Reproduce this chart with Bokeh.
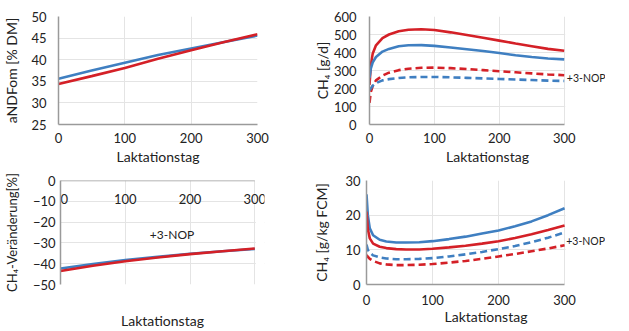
from bokeh.plotting import figure
from bokeh.layouts import column, row
from bokeh.models import Range1d, Label, BoxAnnotation, ColumnDataSource
from bokeh.core.properties import value
from bokeh.embed import file_html
from bokeh.resources import INLINE

# ---------------- data ----------------
x_ticks = [0, 100, 200, 300]

# Panel 1: aNDFom [% DM]
d1 = [0, 50, 100, 150, 200, 250, 300]
ndf_blue = [35.6, 37.5, 39.3, 41.1, 42.6, 44.1, 45.6]
ndf_red = [34.4, 36.2, 38.1, 40.2, 42.2, 44.1, 45.9]
y1_ticks = [25, 30, 35, 40, 45, 50]

# Panel 2: CH4 [g/d]
d2 = [0, 2, 5, 10, 20, 30, 45, 60, 80, 100, 125, 150, 175, 200, 225, 250, 275, 300]
gd_red = [220, 330, 395, 440, 480, 500, 518, 526, 529, 525, 512, 497, 482, 466, 450, 435, 420, 410]
gd_blue = [260, 310, 345, 375, 405, 420, 435, 440, 441, 437, 428, 418, 408, 397, 385, 375, 367, 362]
gd_red_nop = [120, 180, 215, 245, 272, 288, 302, 310, 315, 316, 313, 308, 302, 296, 290, 284, 278, 274]
gd_blue_nop = [190, 200, 215, 230, 245, 252, 258, 262, 264, 264, 262, 259, 256, 253, 250, 247, 244, 242]
y2_ticks = [0, 100, 200, 300, 400, 500, 600]

# Panel 3: CH4 change [%]
d3 = [0, 50, 100, 150, 200, 250, 300]
chg_blue = [-42.3, -40.2, -38.3, -36.7, -35.2, -34.0, -32.9]
chg_red = [-43.5, -41.0, -38.8, -37.0, -35.4, -34.0, -32.7]
y3_ticks = [0, -10, -20, -30, -40, -50]

# Panel 4: CH4 [g/kg FCM]
d4 = [0, 2, 5, 10, 20, 30, 45, 60, 80, 100, 125, 150, 175, 200, 225, 250, 275, 300]
fcm_blue = [26, 20, 16.2, 14.2, 12.9, 12.4, 12.1, 12.1, 12.2, 12.5, 13.1, 13.8, 14.7, 15.6, 16.8, 18.2, 20.0, 22.0]
fcm_red = [21, 16, 13.3, 11.8, 10.9, 10.5, 10.2, 10.1, 10.1, 10.3, 10.7, 11.2, 11.8, 12.5, 13.4, 14.5, 15.7, 17.0]
fcm_blue_nop = [11.5, 10, 9.2, 8.4, 7.8, 7.5, 7.3, 7.3, 7.4, 7.6, 8.1, 8.7, 9.4, 10.2, 11.1, 12.2, 13.5, 15.0]
fcm_red_nop = [8.5, 8, 7.4, 6.8, 6.1, 5.8, 5.6, 5.6, 5.7, 5.9, 6.3, 6.8, 7.4, 8.1, 8.8, 9.6, 10.4, 11.3]
y4_ticks = [0, 10, 20, 30]

# ---------------- style ----------------
FONT = "Lato"
TXT = "#222222"
AXC = "#9a9a9a"
GRID = "#e4e4e4"
RED = "#d42027"
BLUE = "#3f7fc1"
LW = 2.6
DASH = "7 4"


def style_axis(ax, label_size="14px"):
    ax.axis_line_color = AXC
    ax.axis_line_width = 1.5
    ax.major_tick_line_color = None
    ax.minor_tick_line_color = None
    ax.major_tick_out = 0
    ax.major_tick_in = 0
    ax.minor_tick_out = 0
    ax.minor_tick_in = 0
    ax.major_label_text_font = FONT
    ax.major_label_text_font_size = "13px"
    ax.major_label_text_color = TXT
    ax.axis_label_text_font = FONT
    ax.axis_label_text_font_size = label_size
    ax.axis_label_text_font_style = "normal"
    ax.axis_label_text_color = TXT


def base(width, height, left, right, top, bottom, xr, yr, yticks, ylabel,
         ylabel_size="14px"):
    p = figure(width=width, height=height, output_backend="svg", toolbar_location=None,
               x_range=Range1d(*xr), y_range=Range1d(*yr), min_border=0,
               min_border_left=left, min_border_right=right,
               min_border_top=top, min_border_bottom=bottom)
    p.outline_line_color = None
    p.background_fill_color = "white"
    p.border_fill_color = "white"
    p.xaxis.ticker = x_ticks
    p.yaxis.ticker = yticks
    style_axis(p.xaxis[0])
    style_axis(p.yaxis[0], ylabel_size)
    p.xaxis.bounds = (0, 300)
    p.xaxis.axis_label = "Laktationstag"
    p.yaxis.axis_label = ylabel
    p.xgrid.grid_line_color = GRID
    p.ygrid.grid_line_color = GRID
    return p


def mask_right(p):
    # blank the grid in the extra room right of day 300
    p.add_layout(BoxAnnotation(left=301.5, fill_color="white", fill_alpha=1.0,
                               line_color=None, level="underlay"))


def nop_label(p, x, y, size="10.5px"):
    p.add_layout(Label(x=x, y=y, text="+3-NOP", text_font=FONT, text_font_size=size,
                       text_color=TXT, text_baseline="middle", text_align="left"))


# Panel 1
p1 = base(310, 170, 56, 53, 16, 45, (0, 300), (25, 50), y1_ticks, "aNDFom [% DM]")
p1.xaxis.major_label_standoff = 8
p1.xaxis.axis_label_standoff = 2
p1.yaxis.major_label_standoff = 12
p1.yaxis.axis_label_standoff = 8
p1.line(d1, ndf_blue, line_color=BLUE, line_width=LW)
p1.line(d1, ndf_red, line_color=RED, line_width=LW)

# Panel 2 (x range extended to the right to leave room for the label)
p2 = base(295, 170, 55, 0, 16, 46, (0, 363.6), (0, 600), y2_ticks, "CH₄ [g/d]")
p2.xaxis.major_label_standoff = 8
p2.xaxis.axis_label_standoff = 2
p2.yaxis.major_label_standoff = 13
p2.yaxis.axis_label_standoff = 0
mask_right(p2)
p2.line(d2, gd_red, line_color=RED, line_width=LW)
p2.line(d2, gd_blue, line_color=BLUE, line_width=LW)
p2.line(d2, gd_red_nop, line_color=RED, line_width=LW, line_dash=DASH)
p2.line(d2, gd_blue_nop, line_color=BLUE, line_width=LW, line_dash=DASH)
nop_label(p2, 304, 261)

# Panel 3 (day labels drawn just under the zero line, inside the plot)
p3 = base(310, 161, 53, 46, 10, 46, (0, 315), (-50, 0), y3_ticks, "CH₄-Veränderung[%]",
          ylabel_size="13px")
p3.xaxis.axis_line_color = None
p3.xaxis.major_label_text_font_size = "0px"
p3.xaxis.major_label_standoff = 0
p3.xaxis.axis_label_standoff = 27
p3.yaxis.major_label_standoff = 5
p3.yaxis.axis_label_standoff = 10
mask_right(p3)
zero_line = [0] * len(x_ticks)
p3.line(x=[x_ticks[0], x_ticks[-1]], y=[zero_line[0], zero_line[-1]], line_color=AXC, line_width=1.5)
src_first = ColumnDataSource(dict(x=x_ticks[:1], y=zero_line[:1], t=[str(v) for v in x_ticks[:1]]))
src_rest = ColumnDataSource(dict(x=x_ticks[1:], y=zero_line[1:], t=[str(v) for v in x_ticks[1:]]))
p3.text(x="x", y="y", text="t", source=src_first, text_font=value(FONT), text_font_size="13px",
        text_color=TXT, text_align="left", text_baseline="middle", y_offset=18)
p3.text(x="x", y="y", text="t", source=src_rest, text_font=value(FONT), text_font_size="13px",
        text_color=TXT, text_align="center", text_baseline="middle", y_offset=18)
p3.line(d3, chg_blue, line_color=BLUE, line_width=LW)
p3.line(d3, chg_red, line_color=RED, line_width=LW)
nop_label(p3, 138, -26, "12px")

# Panel 4
p4 = base(295, 161, 55, 0, 10, 45, (0, 362), (0, 30), y4_ticks, "CH₄ [g/kg FCM]")
p4.xaxis.major_label_standoff = 10
p4.xaxis.axis_label_standoff = 0
p4.yaxis.major_label_standoff = 6
p4.yaxis.axis_label_standoff = 12
mask_right(p4)
p4.line(d4, fcm_blue, line_color=BLUE, line_width=LW)
p4.line(d4, fcm_red, line_color=RED, line_width=LW)
p4.line(d4, fcm_blue_nop, line_color=BLUE, line_width=LW, line_dash=DASH)
p4.line(d4, fcm_red_nop, line_color=RED, line_width=LW, line_dash=DASH)
nop_label(p4, 302.5, 12.6)

layout = column(row(p1, p2), row(p3, p4))
open("out.html", "w").write(file_html(layout, INLINE))
